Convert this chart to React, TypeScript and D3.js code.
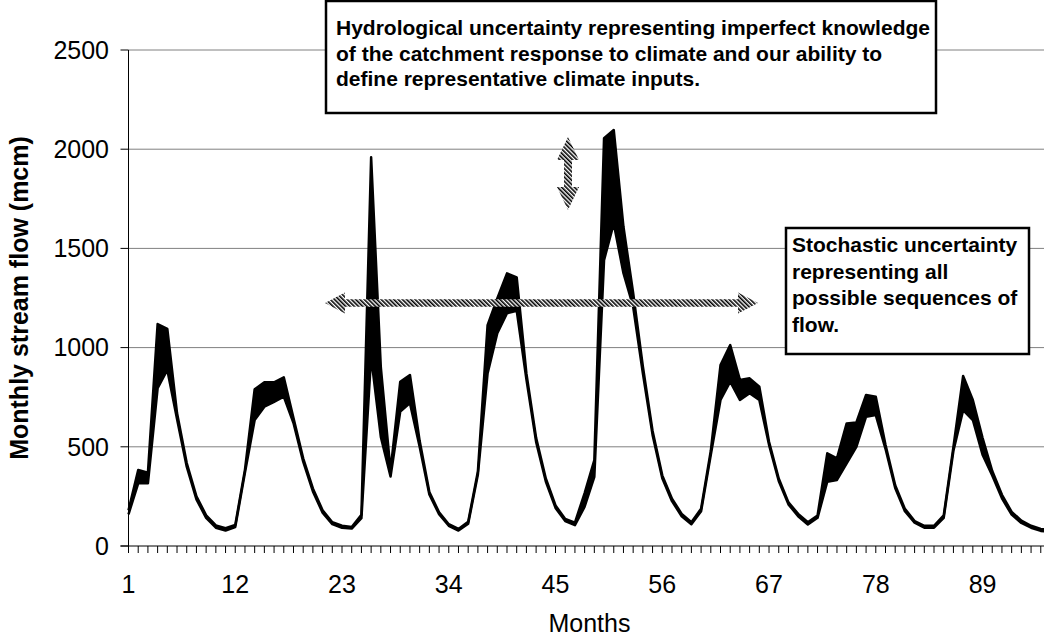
import React from "react";
import * as d3 from "d3";

// Monthly stream flow (mcm): lower and upper bounds of the simulated band, months 1..96
const months: number[] = Array.from({ length: 96 }, (_, i) => i + 1);

const lowerFlow: number[] = [
  160, 316, 316, 795, 887, 640, 400, 235, 142, 92, 78, 95,
  370, 635, 702, 727, 753, 620, 425, 275, 168, 110, 92, 88,
  140, 954, 550, 350, 677, 720, 500, 260, 160, 102, 78, 112,
  360, 870, 1072, 1173, 1186, 840, 525, 325, 192, 126, 105, 198,
  349, 1441, 1626, 1375, 1206, 870, 560, 342, 226, 150, 110, 175,
  460, 736, 828, 736, 770, 736, 510, 328, 210, 150, 108, 142,
  324, 333, 417, 500, 652, 660, 490, 292, 175, 118, 92, 92,
  142, 480, 685, 635, 460, 355, 240, 158, 116, 92, 76, 70,
];

const upperFlow: number[] = [
  180, 383, 369, 1119, 1094, 670, 418, 250, 155, 104, 90, 106,
  385, 790, 825, 825, 850, 645, 442, 290, 180, 120, 102, 96,
  158, 1959, 900, 380, 828, 862, 530, 272, 170, 110, 86, 122,
  375, 1113, 1248, 1374, 1354, 870, 545, 340, 204, 136, 118, 267,
  433, 2055, 2097, 1609, 1275, 905, 580, 356, 238, 162, 120, 188,
  480, 912, 1013, 837, 845, 803, 525, 340, 220, 162, 120, 154,
  467, 442, 618, 623, 761, 752, 510, 306, 187, 126, 102, 102,
  154, 500, 857, 736, 545, 378, 258, 172, 128, 102, 86, 80,
];

const yTicks: number[] = [0, 500, 1000, 1500, 2000, 2500];
const xLabelMonths: number[] = [1, 12, 23, 34, 45, 56, 67, 78, 89];

const hydroText: string[] = [
  "Hydrological uncertainty representing imperfect knowledge",
  "of the catchment response to climate and our ability to",
  "define representative climate inputs.",
];
const stochText: string[] = [
  "Stochastic uncertainty",
  "representing all",
  "possible sequences of",
  "flow.",
];

const W = 1044;
const H = 641;
const FONT = "'Liberation Sans', Arial, Helvetica, sans-serif";

export default function App() {
  const x = d3.scaleLinear().domain([1, 96]).range([128.5, 128.5 + 95 * 9.705]);
  const y = d3.scaleLinear().domain([0, 2500]).range([546, 50]);

  const band = d3
    .area<number>()
    .x((_, i) => x(months[i]))
    .y0((_, i) => y(lowerFlow[i]))
    .y1((_, i) => y(upperFlow[i]));
  const edgeLine = d3.line<number>().x((_, i) => x(months[i])).y((d) => y(d));

  const plotLeft = x(1);
  const plotRight = x(96);

  // double-headed hatched arrows
  const hArrow = (x0: number, x1: number, cy: number, head: number, hh: number, sh: number) =>
    `M${x0},${cy} L${x0 + head},${cy - hh} L${x0 + head},${cy - sh} L${x1 - head},${cy - sh} L${x1 - head},${cy - hh} L${x1},${cy} L${x1 - head},${cy + hh} L${x1 - head},${cy + sh} L${x0 + head},${cy + sh} L${x0 + head},${cy + hh} Z`;
  const vArrow = (cx: number, y0: number, y1: number, head: number, hw: number, sw: number) =>
    `M${cx},${y0} L${cx + hw},${y0 + head} L${cx + sw},${y0 + head} L${cx + sw},${y1 - head} L${cx + hw},${y1 - head} L${cx},${y1} L${cx - hw},${y1 - head} L${cx - sw},${y1 - head} L${cx - sw},${y0 + head} L${cx - hw},${y0 + head} Z`;

  return (
    <svg
      width={W}
      height={H}
      viewBox={`0 0 ${W} ${H}`}
      style={{ position: "absolute", left: 0, top: 0, background: "#fff" }}
      fontFamily={FONT}
    >
      <defs>
        <pattern id="hatch" patternUnits="userSpaceOnUse" width="3" height="3" patternTransform="rotate(-45)">
          <rect width="3" height="3" fill="#fff" />
          <rect width="1.6" height="3" fill="#000" />
        </pattern>
      </defs>
      <rect width={W} height={H} fill="#fff" />

      {/* gridlines */}
      {yTicks.filter((t) => t > 0).map((t) => (
        <line key={t} x1={plotLeft} x2={plotRight} y1={y(t)} y2={y(t)} stroke="#808080" strokeWidth={1} />
      ))}

      {/* flow band */}
      <path d={band(months) ?? ""} fill="#000" />
      <path d={edgeLine(lowerFlow) ?? ""} fill="none" stroke="#000" strokeWidth={2.5} strokeLinejoin="round" />
      <path d={edgeLine(upperFlow) ?? ""} fill="none" stroke="#000" strokeWidth={2.5} strokeLinejoin="round" />

      {/* axes */}
      <line x1={plotLeft} x2={plotLeft} y1={y(2500)} y2={y(0)} stroke="#000" strokeWidth={1} />
      <line x1={plotLeft - 8} x2={plotRight} y1={y(0)} y2={y(0)} stroke="#000" strokeWidth={1} />
      {yTicks.map((t) => (
        <g key={t}>
          <line x1={plotLeft - 8} x2={plotLeft} y1={y(t)} y2={y(t)} stroke="#000" />
          <text x={109} y={y(t)} dy="0.35em" textAnchor="end" fontSize={25}>
            {t}
          </text>
        </g>
      ))}
      {months.map((m) => (
        <line key={m} x1={x(m)} x2={x(m)} y1={y(0)} y2={y(0) + 7} stroke="#000" />
      ))}
      {xLabelMonths.map((m) => (
        <text key={m} x={x(m)} y={593} textAnchor="middle" fontSize={25}>
          {m}
        </text>
      ))}
      <text x={(plotLeft + plotRight) / 2} y={632} textAnchor="middle" fontSize={25}>
        Months
      </text>
      <text
        transform={`translate(28, ${(y(0) + y(2500)) / 2}) rotate(-90)`}
        textAnchor="middle"
        fontSize={25}
        fontWeight="bold"
      >
        Monthly stream flow (mcm)
      </text>

      {/* annotation arrows */}
      <path d={hArrow(325, 758, 303, 20, 10.5, 3.8)} fill="url(#hatch)" />
      <path d={vArrow(568, 137, 210, 23, 11, 4)} fill="url(#hatch)" />

      {/* annotation boxes */}
      <rect x={326} y={1} width={610} height={112} fill="#fff" stroke="#000" strokeWidth={2.5} />
      {hydroText.map((s, i) => (
        <text key={i} x={336} y={35 + i * 25.7} fontSize={21} fontWeight="bold">
          {s}
        </text>
      ))}
      <rect x={786} y={228} width={243} height={126} fill="#fff" stroke="#000" strokeWidth={2.5} />
      {stochText.map((s, i) => (
        <text key={i} x={792} y={252 + i * 26.7} fontSize={21} fontWeight="bold">
          {s}
        </text>
      ))}
    </svg>
  );
}
